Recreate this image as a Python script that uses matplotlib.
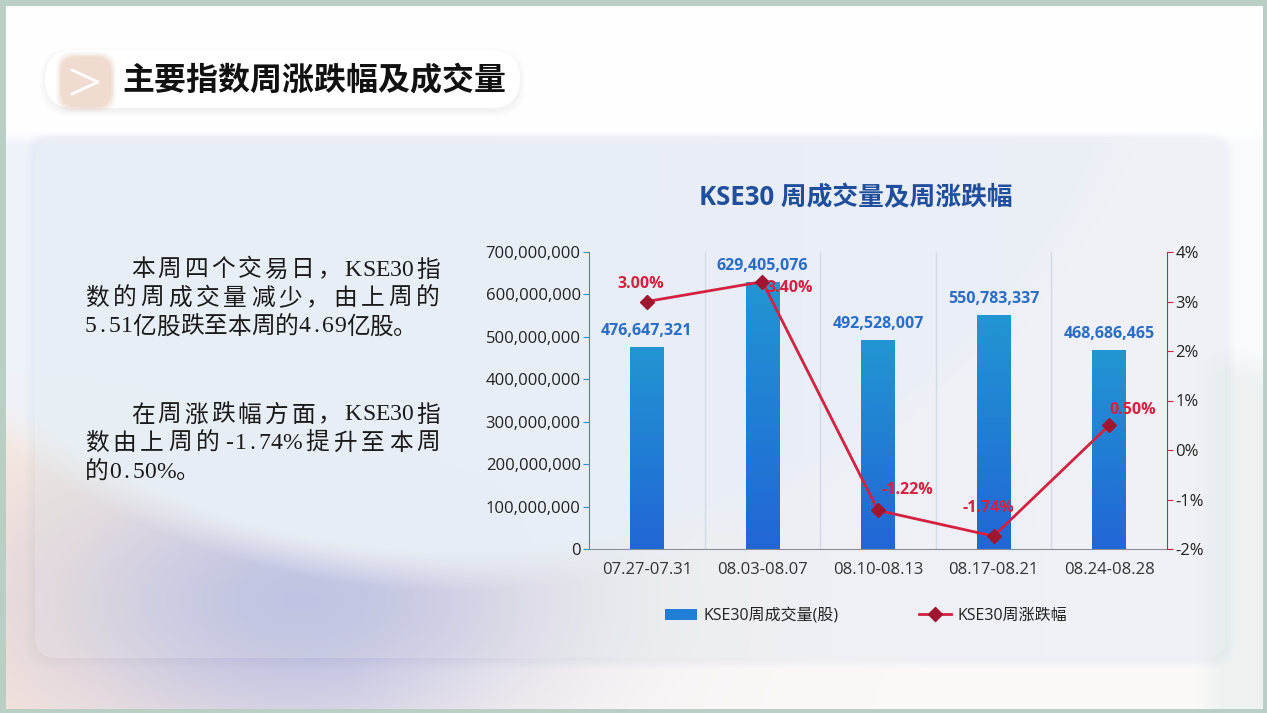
import numpy as np
import matplotlib
matplotlib.use("Agg")
import matplotlib.pyplot as plt
from matplotlib.patches import FancyBboxPatch, Rectangle
from matplotlib.font_manager import FontProperties
from matplotlib.ticker import FuncFormatter, MultipleLocator

# chart data
weeks = ["07.27-07.31", "08.03-08.07", "08.10-08.13", "08.17-08.21", "08.24-08.28"]
volume = [476647321, 629405076, 492528007, 550783337, 468686465]
change_pct = [3.00, 3.40, -1.22, -1.74, 0.50]

page_title = "主要指数周涨跌幅及成交量"
chart_title = "KSE30 周成交量及周涨跌幅"
vol_label = "KSE30周成交量(股)"
pct_label = "KSE30周涨跌幅"
para1 = ["本周四个交易日，KSE30指", "数的周成交量减少，由上周的", "5.51亿股跌至本周的4.69亿股。"]
para2 = ["在周涨跌幅方面，KSE30指", "数由上周的-1.74%提升至本周", "的0.50%。"]

W, H = 1267, 713
CJK = "Noto Sans CJK SC"
LAT = ["Open Sans", CJK]

fig = plt.figure(figsize=(W / 100, H / 100), dpi=100)


def fx(px):
    return px / W


def fy(py):
    return 1 - py / H


# ---- background picture ----
yy, xx = np.mgrid[0:H, 0:W].astype(float)
img = np.ones((H, W, 3)) * np.array([0.972, 0.98, 0.988])


def blend(img, w, col):
    w = np.clip(w, 0, 1)[..., None]
    return img * (1 - w) + np.array(col) * w


peach = np.exp(-((xx + 60) ** 2 / (2 * 420 ** 2) + (yy - 610) ** 2 / (2 * 220 ** 2)))
img = blend(img, peach, [0.985, 0.9, 0.845])
lav = np.exp(-((xx - 300) ** 2 / (2 * 180 ** 2) + (yy - 600) ** 2 / (2 * 100 ** 2)))
img = blend(img, lav, [0.72, 0.74, 0.89])
d = np.sqrt((xx - 450) ** 2 + (yy + 170) ** 2)
circ = np.clip((740 - d) / 40 + 0.5, 0, 1)
img = blend(img, 0.95 * circ, [0.935, 0.952, 0.98])
topw = np.clip((145 - yy) / 15, 0, 1)
img = blend(img, topw, [0.997, 0.998, 1.0])
bottom = np.clip((yy - 655) / 15, 0, 1) * np.clip((xx - 350) / 500, 0, 1)
img = blend(img, 0.7 * bottom, [0.985, 0.978, 0.97])
rfade = np.clip((xx - 500) / 700, 0, 1) * (yy > 140) * (yy < 655)
img = blend(img, 0.5 * rfade, [0.975, 0.985, 0.995])
right = np.clip((yy - 330 - (xx - 1150) * 0.2) / 30, 0, 1) * np.clip((xx - 1195) / 25, 0, 1)
img = blend(img, 0.6 * right, [0.9, 0.93, 0.92])

bg = fig.add_axes([0, 0, 1, 1])
bg.imshow(img, extent=[0, W, H, 0], aspect="auto", zorder=0)
bg.set_xlim(0, W)
bg.set_ylim(H, 0)
bg.axis("off")

# chart panel with soft shadow
for k in range(6):
    bg.add_patch(FancyBboxPatch((35 - k * 2, 138 - k), 1190 + k * 4, 520 + k * 3,
                                boxstyle="round,pad=0,rounding_size=24",
                                fc=(0.55, 0.6, 0.65), ec="none", alpha=0.01, zorder=1))
bg.add_patch(FancyBboxPatch((35, 138), 1190, 520, boxstyle="round,pad=0,rounding_size=22",
                            fc="white", ec="none", alpha=0.2, zorder=2))

# header pill
for k in range(6):
    bg.add_patch(FancyBboxPatch((45 - k, 50 - k + 3), 475 + 2 * k, 58 + 2 * k,
                                boxstyle="round,pad=0,rounding_size=30",
                                fc=(0.6, 0.7, 0.68), ec="none", alpha=0.02, zorder=3))
bg.add_patch(FancyBboxPatch((45, 50), 475, 58, boxstyle="round,pad=0,rounding_size=29",
                            fc="white", ec="none", zorder=4))
for k, a in enumerate([0.25, 0.35, 0.5, 0.7]):
    s = 6 - k * 1.5
    bg.add_patch(FancyBboxPatch((62 - s, 58 - s), 48 + 2 * s, 48 + 2 * s,
                                boxstyle="round,pad=0,rounding_size=16",
                                fc="#e4c1ae", ec="none", alpha=a * 0.4, zorder=5))
bg.plot([72, 98, 72], [70, 82, 94], color="white", lw=2.0, zorder=6, solid_capstyle="round")
bg.text(122, 81, page_title, fontsize=23, fontweight="black", family=CJK,
        va="center", ha="left", color="#111111", zorder=7)

# frame
bg.add_patch(Rectangle((1.5, 1.5), W - 3, H - 3, fill=False, ec="#b9cfc4", lw=5, zorder=10))

# ---- left paragraphs: CJK chars in 1em cells, latin chars in >= half-em cells ----
renderer = fig.canvas.get_renderer()
em = 23.7
txt_fs = em * 0.72
lat_prop = FontProperties(family="Liberation Serif", size=txt_fs)


def draw_line(s, x0, y, x1=None):
    widths = []
    for c in s:
        if ord(c) < 256:
            w, _, _ = renderer.get_text_width_height_descent(c, lat_prop, ismath=False)
            widths.append(max(w, em / 2))
        else:
            widths.append(em)
    # stretch only the gaps that touch a CJK char
    flex = [ord(a) > 255 or ord(b) > 255 for a, b in zip(s[:-1], s[1:])]
    gap = 0.0
    if x1 is not None and any(flex):
        gap = (x1 - x0 - sum(widths)) / sum(flex)
    x = x0
    for i, (c, w) in enumerate(zip(s, widths)):
        lat = ord(c) < 256
        bg.text(x + w / 2, y, c, fontsize=txt_fs, ha="center", va="center",
                family=["Liberation Serif", CJK] if lat else CJK,
                color="#1a1a1a", zorder=7)
        x += w + (gap if i < len(flex) and flex[i] else 0)


for block, y0 in [(para1, 270), (para2, 415)]:
    draw_line(block[0], 131, y0, 440)
    draw_line(block[1], 85, y0 + 28.5, 440)
    draw_line(block[2], 85, y0 + 57)

# ---- chart ----
ax = fig.add_axes([fx(589), fy(549), fx(1167 - 589), (549 - 252) / H])
ax.set_facecolor("none")
x = np.arange(len(weeks))
bars = ax.bar(x, volume, width=0.29, color="#1f7fd6", label=vol_label, zorder=2)
grad = np.linspace(0, 1, 256)[:, None]
cmap = matplotlib.colors.LinearSegmentedColormap.from_list("g", ["#2196d2", "#2166d6"])
for b in bars:
    im = ax.imshow(grad, extent=[b.get_x(), b.get_x() + b.get_width(), 0, b.get_height()],
                   aspect="auto", cmap=cmap, zorder=2.5, origin="upper")
    im.set_clip_path(b)
for xi, v in zip(x, volume):
    ax.annotate(f"{v:,}", (xi, v), xytext=(0, 8), textcoords="offset pixels",
                ha="center", va="bottom", fontsize=11.5, fontweight="bold",
                color="#2a6cc9", family=LAT, zorder=4)

ax.set_xlim(-0.5, len(weeks) - 0.5)
ax.set_ylim(0, 700000000)
ax.yaxis.set_major_locator(MultipleLocator(100000000))
ax.yaxis.set_major_formatter(FuncFormatter(lambda v, p: f"{int(v):,}"))
ax.set_xticks(x)
ax.set_xticklabels(weeks)
for xv in x[:-1] + 0.5:
    ax.axvline(xv, color="#d3dae3", lw=1, zorder=1)
ax.tick_params(axis="x", length=0, pad=9, labelsize=12, labelcolor="#333333")
ax.tick_params(axis="y", length=4, color="#1f93cf", labelsize=12, labelcolor="#222222", pad=2)
for t in ax.get_xticklabels() + ax.get_yticklabels():
    t.set_family(LAT)
ax.spines["left"].set_color("#1f93cf")
ax.spines["bottom"].set_color("#8a8f96")
ax.spines["top"].set_visible(False)
ax.spines["right"].set_visible(False)

ax2 = ax.twinx()
ax2.plot(x, change_pct, color="#d4213f", lw=2, marker="D", markersize=7,
         markerfacecolor="#a01530", markeredgecolor="#a01530", label=pct_label, zorder=5)
ax2.set_ylim(-2, 4)
ax2.yaxis.set_major_locator(MultipleLocator(1))
ax2.yaxis.set_major_formatter(FuncFormatter(lambda v, p: f"{int(round(v))}%"))
ax2.tick_params(axis="y", length=4, color="#d4213f", labelsize=12, labelcolor="#222222", pad=2)
for t in ax2.get_yticklabels():
    t.set_family(LAT)
ax2.spines["right"].set_color("#d4213f")
for s in ["left", "top", "bottom"]:
    ax2.spines[s].set_visible(False)

offsets = [(-6, 18), (27, -6), (29, 20), (-5, 28), (23, 15)]
for xi, v, (dx, dy) in zip(x, change_pct, offsets):
    ax2.annotate(f"{v:.2f}%", (xi, v), xytext=(dx, dy), textcoords="offset pixels",
                 ha="center", va="center", fontsize=11.5, fontweight="bold",
                 color="#d9203e", family=LAT, zorder=6)

fig.text(fx(856), fy(198), chart_title, ha="center", va="center", fontsize=18.5,
         fontweight="bold", color="#1f4e9c", family=LAT)

h1, l1 = ax.get_legend_handles_labels()
h2, l2 = ax2.get_legend_handles_labels()
leg = fig.legend(h1 + h2, l1 + l2, loc="center", bbox_to_anchor=(fx(866), fy(616)),
                 ncol=2, frameon=False, columnspacing=5.0, handlelength=2.0,
                 handletextpad=0.4, prop={"family": LAT, "size": 11.5})
for t in leg.get_texts():
    t.set_color("#222222")

fig.savefig("out.png", dpi=100)
